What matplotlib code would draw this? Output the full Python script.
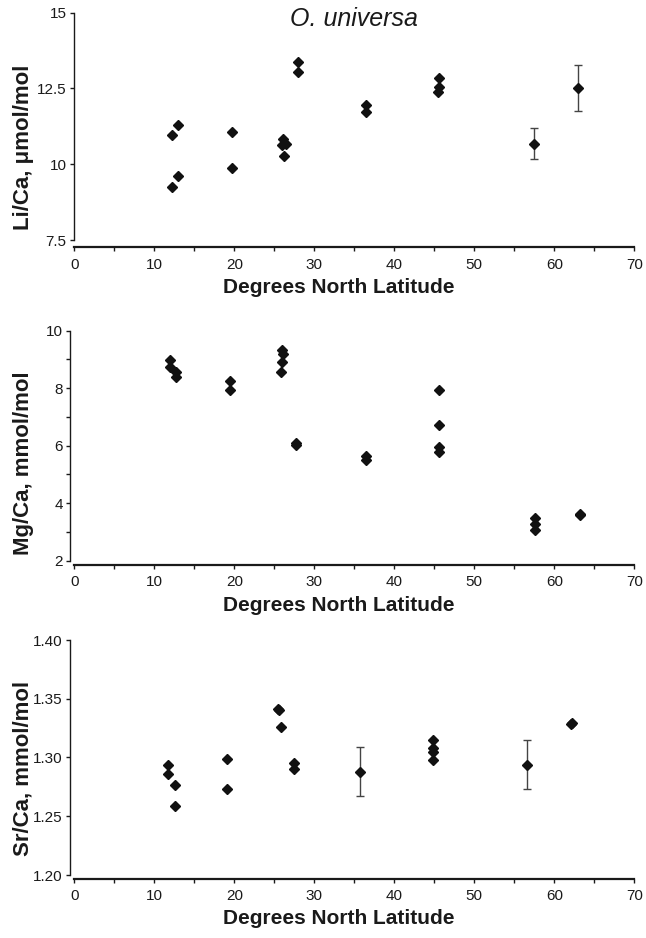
import numpy as np
import matplotlib
matplotlib.use("Agg")
import matplotlib.pyplot as plt
from matplotlib.ticker import MultipleLocator, FixedLocator

plt.rcParams['font.family'] = ['Liberation Sans', 'DejaVu Sans']

# Li/Ca (umol/mol) vs latitude
li_lat = [12.2, 13.0, 12.2, 13.0, 19.7, 19.7, 26.1, 26.0, 26.4, 26.2,
          28.0, 27.9, 36.4, 36.5, 45.6, 45.6, 45.5]
li_val = [10.95, 11.29, 9.25, 9.62, 11.06, 9.87, 10.83, 10.62, 10.67, 10.27,
          13.37, 13.04, 11.97, 11.72, 12.84, 12.55, 12.37]
li_err_lat = [57.5, 62.9]
li_err_val = [10.68, 12.50]
li_err = [0.51, 0.76]

# Mg/Ca (mmol/mol) vs latitude
mg_lat = [11.9, 11.9, 12.7, 12.7, 19.4, 19.4, 25.9, 26.1, 26.0, 25.8,
          27.7, 27.7, 36.4, 36.4, 45.6, 45.6, 45.6, 45.6,
          57.6, 57.6, 57.6, 63.2, 63.2]
mg_val = [8.98, 8.75, 8.56, 8.38, 8.26, 7.93, 9.33, 9.19, 8.91, 8.56,
          6.11, 6.02, 5.65, 5.52, 7.94, 6.72, 5.97, 5.77,
          3.48, 3.26, 3.06, 3.62, 3.58]

# Sr/Ca (mmol/mol) vs latitude
sr_lat = [11.7, 11.7, 12.6, 12.6, 19.1, 19.1, 25.4, 25.6, 25.8, 27.4, 27.4,
          44.8, 44.8, 44.8, 44.8, 62.1, 62.2]
sr_val = [1.294, 1.286, 1.277, 1.259, 1.299, 1.273, 1.341, 1.340, 1.326,
          1.295, 1.2905, 1.315, 1.308, 1.305, 1.298, 1.3285, 1.329]
sr_err_lat = [35.7, 56.6]
sr_err_val = [1.288, 1.294]
sr_err = [0.021, 0.021]

W, H = 646, 938
fig = plt.figure(figsize=(W / 100, H / 100), dpi=100)


def px_rect(top, bottom):
    return [74.3 / W, 1 - bottom / H, 560 / W, (bottom - top) / H]


def style(ax, ylim, yticks, ylabels, ylab, ylab_y, xlab_y, bot_off, left_off):
    ax.set_xlim(0, 70)
    ax.set_ylim(*ylim)
    for s in ['top', 'right']:
        ax.spines[s].set_visible(False)
    ax.spines['bottom'].set_position(('outward', bot_off * 0.72))
    ax.spines['left'].set_position(('outward', left_off * 0.72))
    ax.spines['bottom'].set_linewidth(1.6)
    ax.spines['left'].set_linewidth(1.0)
    ax.spines['bottom'].set_color('#1a1a1a')
    ax.spines['left'].set_color('#1a1a1a')
    ax.xaxis.set_major_locator(MultipleLocator(10))
    ax.xaxis.set_minor_locator(MultipleLocator(5))
    ax.set_yticks(yticks)
    ax.set_yticklabels(ylabels)
    ax.tick_params(axis='x', which='both', direction='out', length=3.0,
                   width=1.0, pad=4.5, labelsize=11, colors='#1a1a1a')
    ax.tick_params(axis='y', which='both', direction='out', length=3.0,
                   width=1.0, pad=2.5, labelsize=11, colors='#1a1a1a')
    ax.set_xlabel('Degrees North Latitude', fontsize=15, fontweight='bold',
                  color='#1a1a1a')
    ax.xaxis.set_label_coords(0.473, xlab_y)
    ax.set_ylabel(ylab, fontsize=16, fontweight='bold', color='#1a1a1a')
    ax.yaxis.set_label_coords(-0.072, ylab_y)


mk = dict(marker='D', ms=4.8, color='#111111', linestyle='none')
eb = dict(fmt='D', ms=4.8, color='#111111', ecolor='#444444',
          elinewidth=1.0, capsize=2.7, capthick=1.0)

# top panel
ax1 = fig.add_axes(px_rect(12.7, 240))
ax1.plot(li_lat, li_val, **mk)
ax1.errorbar(li_err_lat, li_err_val, yerr=li_err, **eb)
style(ax1, (7.5, 15), [7.5, 10, 12.5, 15], ['7.5', '10', '12.5', '15'],
      'Li/Ca, \u03bcmol/mol', 0.407, -0.167, 7.5, 0)
fig.text(354 / W, 1 - 19 / H, 'O. universa', fontsize=18, style='italic',
         ha='center', va='center', color='#1a1a1a')

# middle panel
ax2 = fig.add_axes(px_rect(330.7, 560.7))
ax2.plot(mg_lat, mg_val, **mk)
style(ax2, (2, 10), [2, 4, 6, 8, 10], ['2', '4', '6', '8', '10'],
      'Mg/Ca, mmol/mol', 0.425, -0.153, 4.3, 4)
ax2.yaxis.set_minor_locator(FixedLocator([3, 5, 7, 9]))

# bottom panel
ax3 = fig.add_axes(px_rect(640, 875))
ax3.plot(sr_lat, sr_val, **mk)
ax3.errorbar(sr_err_lat, sr_err_val, yerr=sr_err, **eb)
style(ax3, (1.20, 1.40), [1.20, 1.25, 1.30, 1.35, 1.40],
      ['1.20', '1.25', '1.30', '1.35', '1.40'],
      'Sr/Ca, mmol/mol', 0.455, -0.145, 3.5, 4)

fig.savefig('out.png', dpi=100)
